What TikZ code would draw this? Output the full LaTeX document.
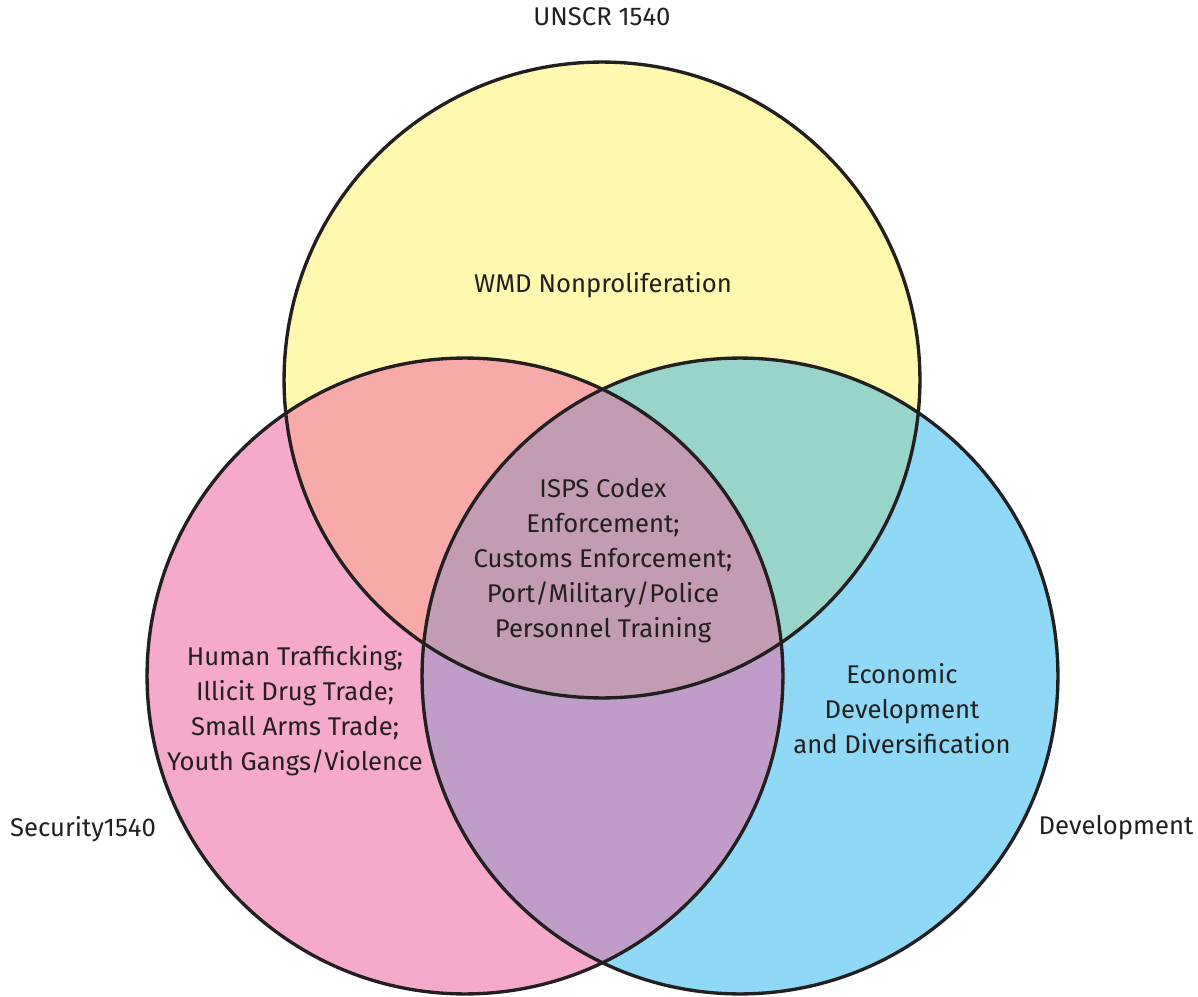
\documentclass[tikz,border=0pt]{standalone}
\usepackage{fontspec}
\setmainfont{Fira Sans}
\definecolor{venn line}{RGB}{35,31,32}
\definecolor{unscr fill}{RGB}{255,249,176}
\definecolor{security fill}{RGB}{245,170,203}
\definecolor{development fill}{RGB}{143,216,246}
\definecolor{unscr security}{RGB}{248,170,168}
\definecolor{unscr development}{RGB}{152,212,202}
\definecolor{security development}{RGB}{192,157,200}
\definecolor{all three}{RGB}{194,156,178}
\begin{document}
\begin{tikzpicture}
  [x=0.02cm,y=-0.02cm,
   venn text/.style={font=\fontsize{14.6}{19.9}\selectfont,align=center,text=venn line},
   venn circle/.style={draw=venn line,line width=1.9pt}]
  \useasboundingbox (0,0) rectangle (1198,997);
  \coordinate (unscr) at (602,380);
  \coordinate (security) at (465,676);
  \coordinate (development) at (740,676);
  % plain discs
  \fill [unscr fill] (unscr) circle [radius=6.36cm];
  \fill [security fill] (security) circle [radius=6.36cm];
  \fill [development fill] (development) circle [radius=6.36cm];
  % overlaps
  \begin{scope}
    \clip (unscr) circle [radius=6.36cm];
    \fill [unscr security] (security) circle [radius=6.36cm];
    \fill [unscr development] (development) circle [radius=6.36cm];
  \end{scope}
  \begin{scope}
    \clip (security) circle [radius=6.36cm];
    \fill [security development] (development) circle [radius=6.36cm];
    \clip (development) circle [radius=6.36cm];
    \fill [all three] (unscr) circle [radius=6.36cm];
  \end{scope}
  % outlines
  \draw [venn circle] (unscr) circle [radius=6.36cm];
  \draw [venn circle] (security) circle [radius=6.36cm];
  \draw [venn circle] (development) circle [radius=6.36cm];
  % labels
  \node (unscr title) [venn text] at (602,17) {UNSCR 1540};
  \node (security title) [venn text] at (83,829) {Security1540};
  \node (development title) [venn text] at (1116,828) {Development};
  \node (wmd) [venn text] at (603,285) {WMD Nonproliferation};
  \node (core) [venn text] at (603,561)
    {ISPS Codex\\Enforcement;\\Customs Enforcement;\\Port/Military/Police\\Personnel Training};
  \node (crime) [venn text] at (295,711)
    {Human Trafficking;\\Illicit Drug Trade;\\Small Arms Trade;\\Youth Gangs/Violence};
  \node (economy) [venn text] at (902,709)
    {Economic\\Development\\and Diversification};
\end{tikzpicture}
\end{document}
